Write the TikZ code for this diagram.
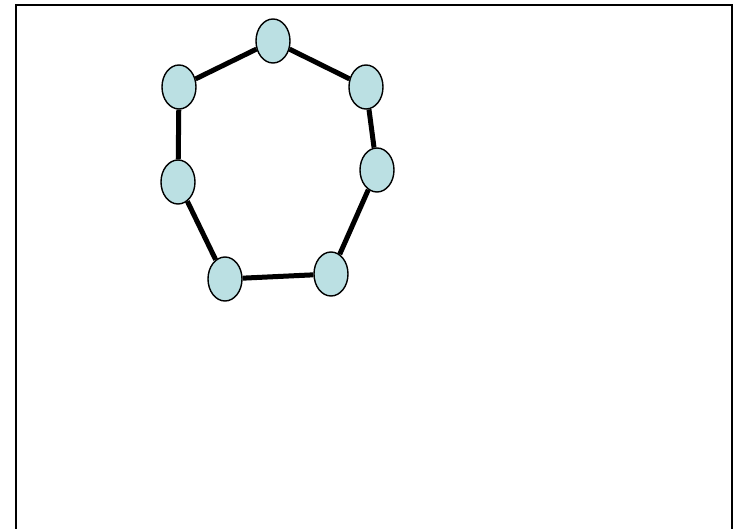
\documentclass[tikz,border=0pt]{standalone}
\usetikzlibrary{shapes.geometric}
\definecolor{nodefill}{HTML}{BBE0E3}
\begin{document}
\begin{tikzpicture}[x=1pt,y=-1pt,
  vert/.style={ellipse,draw=black,line width=1.4pt,fill=nodefill,minimum width=34pt,minimum height=44pt,inner sep=0pt},
  edge/.style={line width=5pt,black}]
\useasboundingbox (0,0) rectangle (735,529);
\draw[line width=2pt] (16,530) -- (16,5) -- (732,5) -- (732,530);
\node[vert] (a) at (273,41) {};
\node[vert] (b) at (366,87) {};
\node[vert] (c) at (377,170) {};
\node[vert] (d) at (331,274) {};
\node[vert] (e) at (225,279) {};
\node[vert] (f) at (178,182) {};
\node[vert] (g) at (179,87) {};
\draw[edge] (a) -- (b);
\draw[edge] (b) -- (c);
\draw[edge] (c) -- (d);
\draw[edge] (d) -- (e);
\draw[edge] (e) -- (f);
\draw[edge] (f) -- (g);
\draw[edge] (g) -- (a);
\end{tikzpicture}
\end{document}
